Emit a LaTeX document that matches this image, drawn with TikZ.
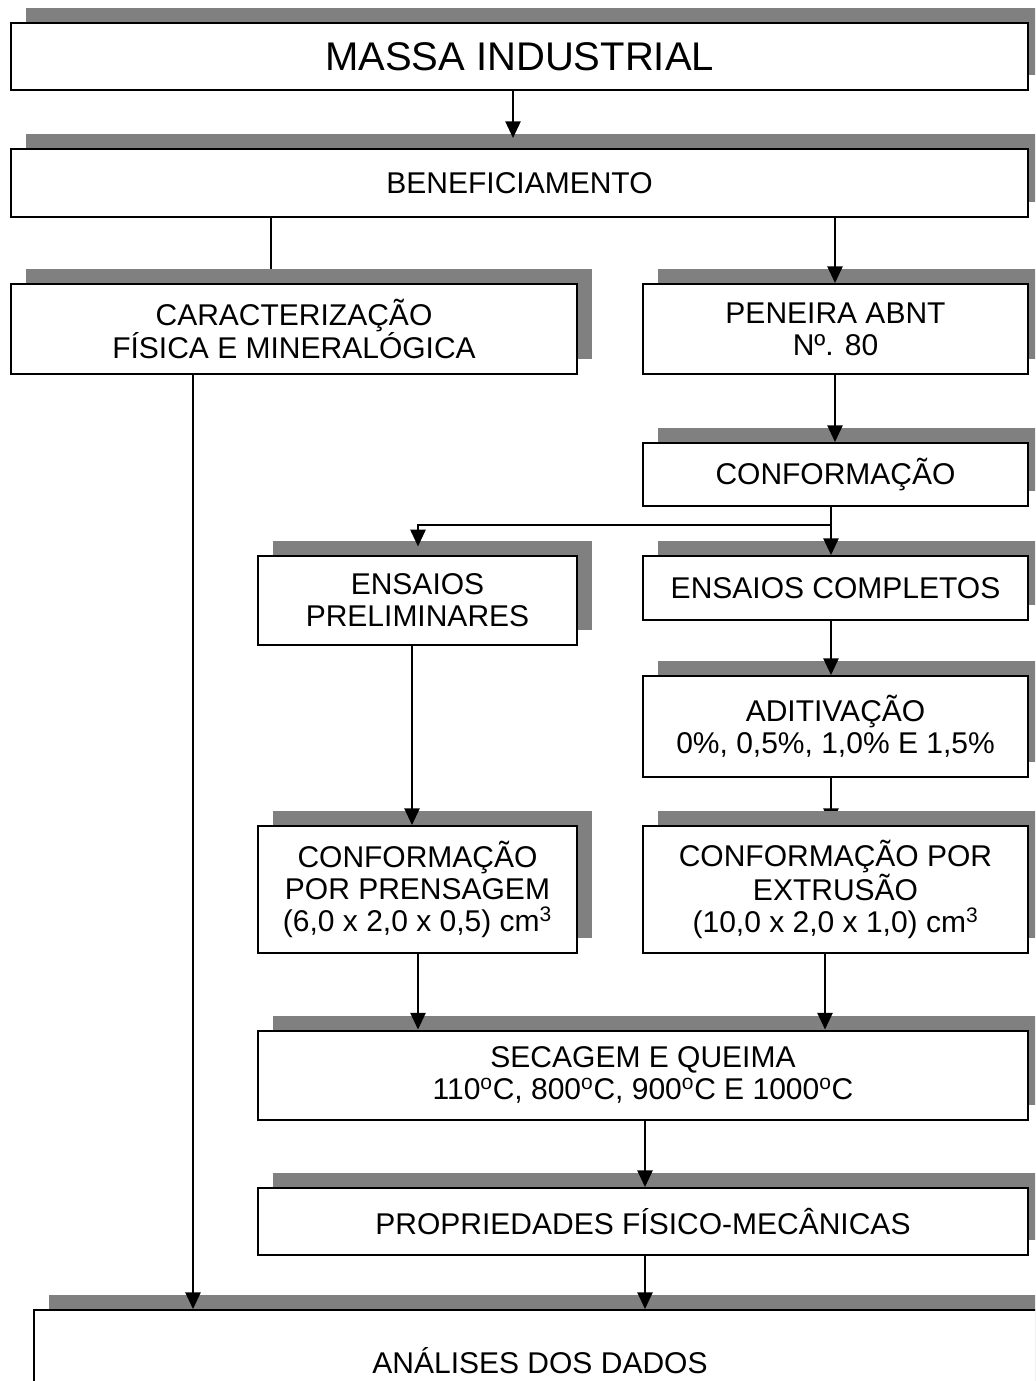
\documentclass[tikz,border=0pt]{standalone}
\usepackage{fontspec}
\setmainfont{Liberation Sans}
\usetikzlibrary{shadows,arrows.meta,calc}
\definecolor{shadowgray}{RGB}{128,128,128}
\pgfdeclarelayer{under}
\pgfsetlayers{under,main}
\begin{document}
\begin{tikzpicture}[x=0.75pt,y=-0.75pt,
  box/.style={draw, line width=1.5pt, fill=white, inner sep=0pt, align=center,
    font=\fontsize{22.5pt}{24pt}\selectfont,
    drop shadow={shadow xshift=11.25pt, shadow yshift=11.25pt, opacity=1, fill=shadowgray}},
  sz/.style 2 args={minimum width=#1*0.75pt, minimum height=#2*0.75pt},
  bigtext/.style={font=\fontsize{30pt}{34pt}\selectfont},
  conn/.style={line width=1.1pt},
  arr/.style={conn, -{Triangle[width=11.5pt,length=12.5pt]}}]
\useasboundingbox (0,0) rectangle (1035,1381);
\clip (0,0) rectangle (1035,1381);

\node[box, bigtext, sz={1017}{67}] (massa) at (519.5,56.5) {MASSA INDUSTRIAL};
\node[box, sz={1017}{68}] (benef) at (519.5,183) {BENEFICIAMENTO};
\node[box, sz={566}{90}] (carac) at (294,329) {CARACTERIZAÇÃO\\FÍSICA E MINERALÓGICA};
\node[box, sz={385}{90}] (peneira) at (835.5,329) {PENEIRA ABNT\\Nº. 80};
\node[box, sz={385}{63}] (conf) at (835.5,474.5) {CONFORMAÇÃO};
\node[box, sz={319}{89}] (enspre) at (417.5,600.5) {ENSAIOS\\PRELIMINARES};
\node[box, sz={385}{64}] (enscomp) at (835.5,588) {ENSAIOS COMPLETOS};
\node[box, sz={385}{101}] (adit) at (835.5,726.5) {ADITIVAÇÃO\\0\%, 0,5\%, 1,0\% E 1,5\%};
\node[box, sz={319}{127}] (prens) at (417.5,889.5) {CONFORMAÇÃO\\POR PRENSAGEM\\(6,0 x 2,0 x 0,5) cm\textsuperscript{3}};
\node[box, sz={385}{127}] (extr) at (835.5,889.5) {CONFORMAÇÃO POR\\EXTRUSÃO\\(10,0 x 2,0 x 1,0) cm\textsuperscript{3}};
\node[box, sz={770}{89}] (secagem) at (643,1075) {SECAGEM E QUEIMA\\110\textsuperscript{o}C, 800\textsuperscript{o}C, 900\textsuperscript{o}C E 1000\textsuperscript{o}C};
\node[box, sz={770}{67}] (prop) at (643,1221.5) {PROPRIEDADES FÍSICO-MECÂNICAS};
\node[box, sz={1012}{102}] (analises) at (540,1361) {ANÁLISES DOS DADOS};

\coordinate (xA) at (513,0);
\coordinate (xB) at (271,0);
\coordinate (xC) at (835,0);
\coordinate (xD) at (831,0);
\coordinate (xE) at (418,0);
\coordinate (xE2) at (412,0);
\coordinate (xF) at (825,0);
\coordinate (xG) at (645,0);
\coordinate (xH) at (193,0);
\coordinate (split) at (831,525);

\draw[arr, shorten >=7.5pt] (massa.south -| xA) -- (benef.north -| xA);
\begin{pgfonlayer}{under}
\draw[conn] (benef.south -| xB) -- (carac.north -| xB);
\draw[arr] (adit.south -| xD) -- (extr.north -| xD);
\end{pgfonlayer}
\draw[arr] (benef.south -| xC) -- (peneira.north -| xC);
\draw[arr] (peneira.south -| xC) -- (conf.north -| xC);
\draw[arr] (conf.south -| xD) -- (enscomp.north -| xD);
\draw[arr, shorten >=6.5pt] (split) -- (split -| xE) -- (enspre.north -| xE);
\draw[arr] (enscomp.south -| xD) -- (adit.north -| xD);
\draw[arr] (enspre.south -| xE2) -- (prens.north -| xE2);
\draw[arr] (prens.south -| xE) -- (secagem.north -| xE);
\draw[arr] (extr.south -| xF) -- (secagem.north -| xF);
\draw[arr] (secagem.south -| xG) -- (prop.north -| xG);
\draw[arr] (prop.south -| xG) -- (analises.north -| xG);
\draw[arr] (carac.south -| xH) -- (analises.north -| xH);
\end{tikzpicture}
\end{document}
